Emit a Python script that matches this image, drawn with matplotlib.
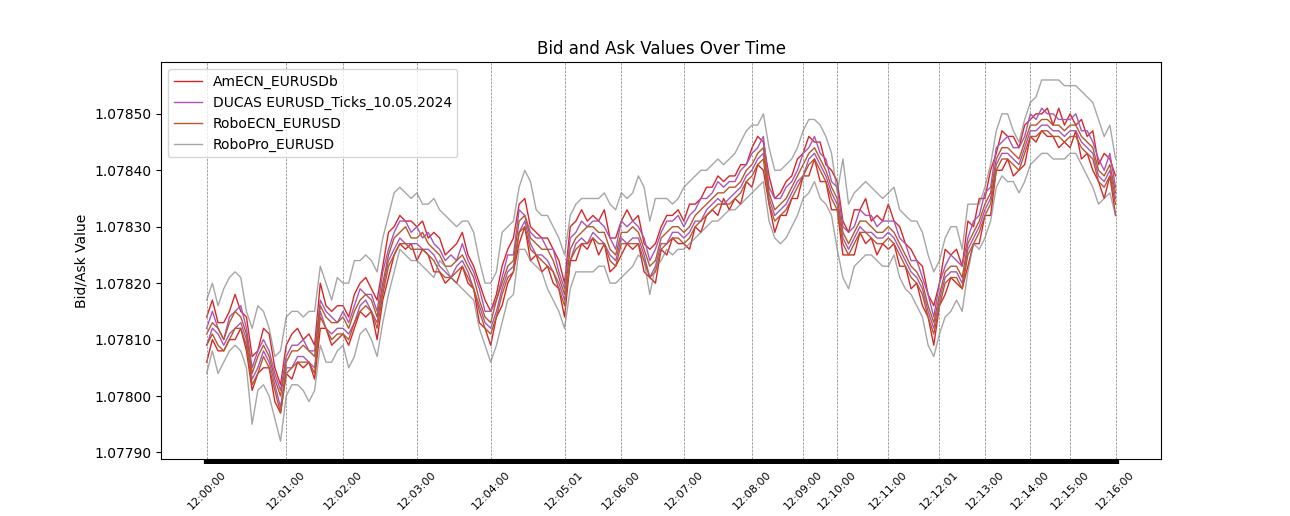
import numpy as np
import matplotlib
matplotlib.use('Agg')
import matplotlib.pyplot as plt
from matplotlib.ticker import FormatStrFormatter

# prices are stored as offsets from 1.07800 in points (0.00001)
base_price = 1.078
point = 0.00001

amecn_ask = [14, 17, 13, 13, 15, 18, 15, 14, 7, 8,
             12, 11, 5, 2, 9, 11, 12, 10, 11, 9,
             20, 16, 15, 16, 16, 14, 18, 20, 21, 19,
             17, 23, 29, 30, 32, 31, 31, 30, 31, 28,
             29, 28, 25, 26, 27, 29, 25, 23, 20, 17,
             15, 18, 23, 26, 28, 34, 35, 30, 29, 28,
             28, 26, 24, 20, 30, 31, 33, 31, 32, 31,
             33, 28, 28, 31, 33, 31, 32, 27, 26, 27,
             30, 32, 32, 33, 31, 34, 34, 35, 37, 37,
             39, 38, 39, 39, 41, 41, 44, 46, 45, 39,
             35, 36, 38, 39, 42, 43, 46, 45, 45, 41,
             40, 38, 31, 29, 33, 33, 35, 31, 32, 31,
             34, 31, 30, 27, 26, 24, 23, 18, 16, 20,
             26, 25, 26, 23, 31, 30, 35, 35, 40, 43,
             47, 46, 46, 44, 48, 49, 50, 50, 51, 48,
             51, 48, 50, 48, 49, 46, 47, 41, 43, 42,
             39]
amecn_bid = [6, 10, 8, 8, 10, 10, 12, 8, 1, 4,
             5, 5, -1, -3, 4, 3, 6, 5, 6, 3,
             12, 12, 9, 10, 11, 9, 12, 15, 14, 15,
             10, 17, 21, 25, 27, 26, 27, 24, 26, 25,
             22, 22, 20, 21, 20, 23, 20, 19, 13, 12,
             9, 14, 16, 20, 22, 27, 30, 24, 25, 22,
             23, 20, 19, 14, 24, 24, 27, 26, 28, 25,
             27, 22, 23, 25, 27, 26, 27, 22, 21, 20,
             26, 25, 28, 27, 27, 26, 30, 29, 32, 33,
             32, 35, 33, 35, 34, 38, 37, 41, 40, 34,
             29, 32, 32, 35, 35, 39, 39, 42, 38, 38,
             33, 33, 25, 25, 25, 29, 27, 28, 25, 27,
             26, 27, 23, 23, 19, 20, 16, 14, 9, 16,
             18, 21, 20, 19, 23, 27, 27, 32, 32, 40,
             40, 42, 39, 40, 41, 46, 45, 47, 46, 46,
             44, 45, 44, 47, 42, 43, 40, 38, 35, 39,
             32]
ducas_ask = [12, 15, 12, 10, 14, 15, 16, 12, 5, 8,
             10, 8, 4, 1, 7, 9, 9, 10, 8, 8,
             17, 15, 14, 13, 15, 13, 16, 19, 18, 18,
             15, 22, 26, 29, 31, 31, 29, 30, 28, 29,
             27, 26, 24, 25, 24, 27, 24, 22, 19, 15,
             15, 17, 21, 25, 25, 33, 32, 29, 28, 28,
             26, 26, 22, 19, 28, 29, 31, 30, 31, 31,
             30, 28, 26, 31, 30, 31, 30, 28, 24, 26,
             29, 31, 31, 32, 30, 32, 33, 35, 35, 36,
             38, 37, 38, 38, 40, 41, 43, 44, 46, 37,
             35, 35, 37, 38, 40, 43, 44, 46, 43, 42,
             38, 37, 30, 29, 30, 33, 32, 32, 30, 31,
             31, 31, 28, 27, 24, 24, 21, 18, 14, 20,
             23, 25, 24, 23, 28, 31, 32, 36, 37, 44,
             45, 46, 44, 44, 46, 50, 49, 51, 50, 50,
             49, 49, 49, 50, 47, 47, 45, 42, 40, 43,
             37]
ducas_bid = [9, 12, 11, 9, 11, 12, 13, 10, 3, 5,
             8, 6, 2, -2, 5, 5, 7, 7, 6, 5,
             15, 12, 11, 12, 12, 11, 13, 16, 17, 15,
             13, 19, 24, 26, 28, 27, 27, 27, 26, 26,
             25, 23, 22, 21, 23, 24, 22, 19, 16, 13,
             12, 15, 19, 22, 23, 29, 31, 27, 25, 25,
             24, 22, 20, 17, 24, 27, 28, 27, 29, 28,
             27, 25, 24, 28, 27, 28, 28, 25, 21, 23,
             27, 27, 29, 29, 28, 29, 31, 31, 33, 34,
             35, 34, 35, 36, 37, 39, 40, 42, 43, 35,
             32, 33, 34, 36, 38, 39, 42, 43, 41, 39,
             36, 34, 28, 26, 28, 30, 29, 29, 28, 28,
             29, 28, 26, 24, 22, 21, 19, 15, 12, 17,
             21, 22, 22, 20, 26, 28, 30, 33, 35, 41,
             43, 43, 42, 41, 44, 47, 47, 48, 48, 47,
             47, 46, 47, 47, 45, 44, 43, 39, 38, 40,
             35]
roboecn_ask = [11, 13, 12, 10, 13, 15, 14, 11, 4, 7,
               9, 7, 3, 0, 6, 8, 8, 9, 8, 7,
               16, 14, 13, 13, 14, 12, 15, 17, 18, 17,
               14, 20, 25, 28, 29, 30, 28, 28, 29, 27,
               26, 25, 23, 23, 24, 25, 23, 21, 17, 14,
               13, 17, 20, 23, 24, 31, 32, 28, 27, 26,
               26, 24, 21, 18, 26, 28, 29, 30, 30, 29,
               29, 26, 25, 29, 29, 30, 29, 26, 23, 24,
               28, 29, 30, 30, 29, 30, 32, 33, 34, 35,
               36, 36, 37, 37, 38, 40, 41, 43, 44, 36,
               33, 34, 35, 37, 39, 41, 43, 44, 42, 40,
               37, 35, 29, 27, 29, 31, 31, 30, 29, 29,
               30, 29, 27, 25, 23, 22, 20, 16, 13, 18,
               22, 23, 23, 21, 27, 29, 31, 34, 36, 42,
               44, 44, 43, 42, 45, 48, 48, 49, 49, 48,
               48, 47, 48, 48, 46, 45, 44, 40, 39, 41,
               36]
roboecn_bid = [9, 11, 9, 8, 10, 12, 12, 9, 2, 4,
               7, 5, 1, -3, 4, 5, 6, 6, 6, 4,
               14, 12, 10, 11, 11, 10, 13, 15, 16, 15,
               12, 18, 23, 25, 27, 27, 26, 26, 26, 25,
               24, 22, 21, 21, 22, 23, 21, 19, 15, 12,
               11, 14, 18, 21, 22, 29, 30, 26, 25, 24,
               23, 22, 19, 16, 24, 26, 27, 27, 28, 27,
               27, 24, 23, 27, 27, 27, 27, 24, 21, 22,
               26, 27, 28, 28, 27, 28, 30, 31, 32, 33,
               34, 34, 34, 35, 36, 38, 39, 41, 42, 34,
               31, 32, 33, 35, 37, 39, 41, 42, 40, 38,
               35, 33, 27, 25, 27, 29, 29, 28, 27, 27,
               28, 27, 25, 23, 21, 20, 18, 14, 11, 16,
               20, 21, 21, 19, 25, 27, 29, 32, 34, 40,
               42, 42, 41, 40, 43, 46, 46, 47, 47, 46,
               46, 45, 46, 46, 44, 43, 42, 38, 37, 39,
               34]
robopro_ask = [17, 20, 16, 19, 21, 22, 21, 15, 12, 16,
               15, 12, 7, 8, 14, 15, 15, 14, 15, 15,
               23, 20, 17, 21, 20, 20, 24, 24, 25, 24,
               22, 28, 32, 36, 37, 36, 35, 36, 34, 34,
               35, 33, 32, 31, 30, 31, 31, 29, 24, 20,
               20, 22, 29, 30, 31, 37, 40, 38, 33, 32,
               32, 30, 28, 25, 32, 34, 35, 35, 35, 35,
               36, 34, 33, 36, 35, 36, 39, 37, 31, 35,
               35, 35, 34, 35, 37, 38, 39, 40, 40, 41,
               42, 41, 42, 43, 45, 47, 48, 48, 50, 44,
               40, 40, 41, 42, 44, 47, 49, 49, 48, 46,
               43, 36, 42, 34, 36, 37, 38, 37, 36, 35,
               36, 37, 33, 32, 31, 31, 29, 25, 22, 24,
               28, 30, 30, 26, 34, 34, 34, 37, 41, 47,
               50, 50, 47, 45, 49, 52, 53, 56, 56, 56,
               56, 55, 55, 55, 54, 53, 52, 49, 46, 48,
               42]
robopro_bid = [4, 8, 4, 6, 8, 9, 8, 5, -5, 1,
               2, 0, -4, -8, 0, 2, 2, 1, -1, 1,
               9, 6, 6, 8, 9, 5, 7, 11, 12, 10,
               7, 13, 18, 22, 26, 25, 24, 24, 23, 22,
               21, 24, 23, 21, 20, 19, 18, 17, 12, 9,
               6, 9, 13, 17, 18, 26, 26, 24, 23, 22,
               19, 17, 15, 12, 19, 22, 22, 22, 22, 23,
               23, 20, 20, 21, 22, 23, 25, 24, 18, 23,
               24, 26, 25, 26, 26, 27, 28, 29, 30, 31,
               31, 32, 33, 33, 34, 35, 36, 37, 38, 31,
               28, 27, 28, 30, 32, 35, 36, 38, 35, 34,
               32, 26, 21, 19, 23, 24, 25, 25, 24, 23,
               23, 25, 21, 19, 18, 16, 14, 9, 7, 11,
               14, 15, 17, 15, 22, 27, 26, 28, 31, 37,
               39, 38, 38, 36, 38, 41, 42, 43, 43, 42,
               42, 42, 43, 43, 41, 39, 37, 34, 35, 36,
               32]

minute_labels = ['12:00:00', '12:01:00', '12:02:00', '12:03:00', '12:04:00', '12:05:01',
                 '12:06:00', '12:07:00', '12:08:00', '12:09:00', '12:10:00', '12:11:00',
                 '12:12:01', '12:13:00', '12:14:00', '12:15:00', '12:16:00']
minute_idx = [0, 14, 24, 37, 50, 63, 73, 84, 96, 105, 111, 120, 129, 137, 145, 152, 160]


def to_price(points):
    return base_price + np.array(points) * point


series = [
    ('AmECN_EURUSDb', amecn_bid, amecn_ask, '#d62728', 1.0),
    ('DUCAS EURUSD_Ticks_10.05.2024', ducas_bid, ducas_ask, '#a855b5', 1.0),
    ('RoboECN_EURUSD', roboecn_bid, roboecn_ask, '#b5582a', 1.0),
    ('RoboPro_EURUSD', robopro_bid, robopro_ask, 'grey', 0.7),
]

fig, ax = plt.subplots(figsize=(12.9, 5.16))
x = np.arange(len(amecn_bid))

for label, bid, ask, color, alpha in series:
    ax.plot(x, to_price(bid), color=color, linewidth=1, alpha=alpha, label=label)
    ax.plot(x, to_price(ask), color=color, linewidth=1, alpha=alpha)

for pos in minute_idx:
    ax.axvline(pos, color='grey', linestyle='--', linewidth=0.5)

labels = [''] * len(x)
for pos, lab in zip(minute_idx, minute_labels):
    labels[pos] = lab
ax.set_xticks(x)
ax.set_xticklabels(labels, rotation=45, fontsize=8)
ax.tick_params(axis='x', width=4.5)
ax.yaxis.set_major_formatter(FormatStrFormatter('%.5f'))

ax.set_title('Bid and Ask Values Over Time')
ax.set_ylabel('Bid/Ask Value')
ax.legend(loc='upper left')

plt.savefig('out.png', dpi=100)
plt.close()
